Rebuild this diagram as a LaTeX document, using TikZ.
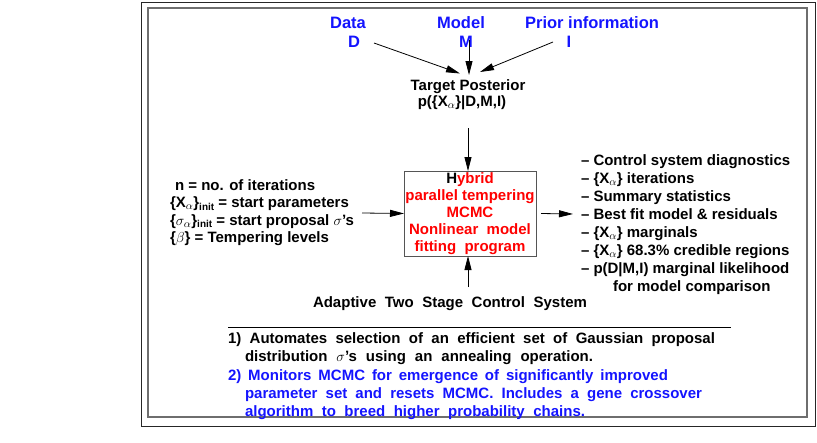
\documentclass[tikz,border=0pt]{standalone}
\usepackage{fontspec}
\setmainfont{Liberation Sans}
\usetikzlibrary{arrows.meta}
\definecolor{lblblue}{RGB}{20,20,255}
\definecolor{framegray}{RGB}{110,110,110}
\definecolor{boxgray}{RGB}{85,85,85}
\newcommand{\mysub}[1]{\raisebox{-2.5pt}{\fontsize{10}{10}\selectfont\bfseries #1}}
\begin{document}
\begin{tikzpicture}[x=1pt,y=-1pt,
  txt/.style={font=\fontsize{15}{17}\selectfont\bfseries, inner sep=0pt, outer sep=0pt},
  lbl/.style={txt, font=\fontsize{16.5}{19}\selectfont\bfseries, text=lblblue},
  arr/.style={draw=black, line width=0.8pt, -{Triangle[length=14pt,width=7pt]}},
  ]
\useasboundingbox (0,0) rectangle (817,442);
\draw[line width=1pt, draw=black!85] (141,2) rectangle (815,426);
\draw[line width=1.8pt, draw=framegray] (148,8) rectangle (807,417);

% top labels
\node[lbl,anchor=base] (data) at (348,28) {Data};
\node[lbl,anchor=base] (D) at (354,47) {D};
\node[lbl,anchor=base] (model) at (461,28) {Model};
\node[lbl,anchor=base] (M) at (466,47) {M};
\node[lbl,anchor=base] (prior) at (592,28) {Prior information};
\node[lbl,anchor=base] (I) at (569,47) {I};

\node[txt,anchor=base] (tp1) at (468,90.5) {Target Posterior};
\node[txt,anchor=base] (tp2) at (462,106) {p(\{X$_\alpha$\}|D,M,I)};

\draw[arr] ([shift={(20,-4)}]D.base) -- ([shift={(-8,-17)}]tp1.base);
\draw[arr] ([shift={(3,-7)}]M.base) -- ([shift={(1,-15.5)}]tp1.base);
\draw[arr] ([shift={(-16,-5)}]I.base) -- ([shift={(12,-18.5)}]tp1.base);

% central box
\node[txt, draw=boxgray, line width=1pt, minimum width=132pt, minimum height=85pt,
      align=center, text=red] (hyb) at (470,213.5)
  {{\color{black}H}ybrid\\parallel tempering\\MCMC\\Nonlinear\ \ model\\fitting\ \ program};

\draw[arr] ([shift={(6,22)}]tp2.base) -- ([shift={(-2,0)}]hyb.north);

% left inputs
\node[txt,anchor=base west] (n1) at (175,190) {n = no. of iterations};
\node[txt,anchor=base west] (n2) at (170,207.5) {\{X$_\alpha$\}\mysub{init} = start parameters};
\node[txt,anchor=base west] (n3) at (170,225) {\{$\sigma_\alpha$\}\mysub{init} = start proposal $\sigma$'s};
\node[txt,anchor=base west] (n4) at (170,242.5) {\{$\beta$\} = Tempering levels};
\coordinate (inarr) at (362,213);
\draw[arr] (inarr) -- (hyb.west);

% right outputs
\node[txt,anchor=base west] (r1) at (581,165.5) {-- Control system diagnostics};
\node[txt,anchor=base west] (r2) at (581,183.5) {-- \{X$_\alpha$\} iterations};
\node[txt,anchor=base west] (r3) at (581,201.5) {-- Summary statistics};
\node[txt,anchor=base west] (r4) at (581,219.5) {-- Best fit model \& residuals};
\node[txt,anchor=base west] (r5) at (581,237.5) {-- \{X$_\alpha$\} marginals};
\node[txt,anchor=base west] (r6) at (581,255.5) {-- \{X$_\alpha$\} 68.3\% credible regions};
\node[txt,anchor=base west] (r7) at (581,273.5) {-- p(D|M,I) marginal likelihood};
\node[txt,anchor=base west] (r8) at (613,291.5) {for model comparison};
\coordinate (outarr) at (573,214);
\draw[arr] ([shift={(5,0)}]hyb.east) -- (outarr);

% control system
\node[txt,anchor=base] (adapt) at (450,307) {\makebox[274pt][s]{Adaptive Two Stage Control System}};
\draw[arr] ([shift={(18,-20)}]adapt.base) -- ([shift={(-2,0)}]hyb.south);

\draw[line width=0.9pt] (228,327) -- (731,327);

\node[txt,anchor=base west] (p1) at (228,343) {\makebox[487pt][s]{1) Automates selection of an efficient set of Gaussian proposal}};
\node[txt,anchor=base west] (p2) at (245,361) {\makebox[348pt][s]{distribution $\sigma$'s using an annealing operation.}};
\node[txt,anchor=base west,text=lblblue] (p3) at (228,380) {\makebox[440pt][s]{2) Monitors MCMC for emergence of significantly improved}};
\node[txt,anchor=base west,text=lblblue] (p4) at (245,398) {\makebox[457pt][s]{parameter set and resets MCMC. Includes a gene crossover}};
\node[txt,anchor=base west,text=lblblue] (p5) at (245,416) {\makebox[340pt][s]{algorithm to breed higher probability chains.}};
\end{tikzpicture}
\end{document}
